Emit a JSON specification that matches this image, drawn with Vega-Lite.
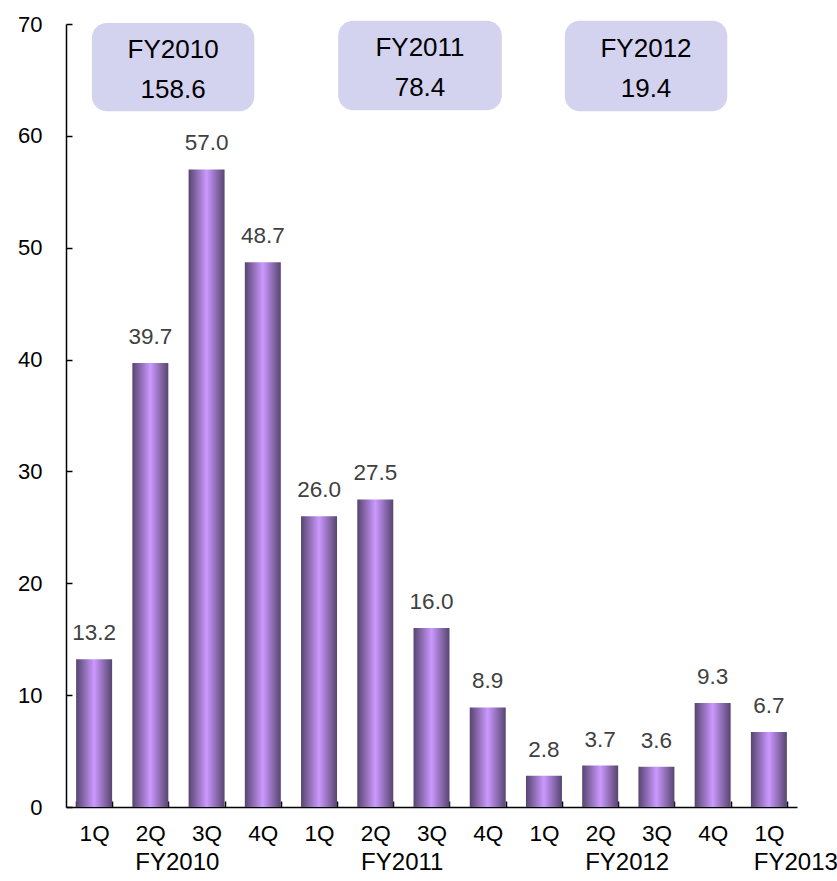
{
  "$schema": "https://vega.github.io/schema/vega-lite/v6.json",
  "width": 731,
  "height": 783,
  "autosize": {"type": "none"},
  "padding": {"left": 66, "top": 24, "right": 40, "bottom": 74},
  "background": "white",
  "config": {
    "view": {"stroke": null},
    "font": "Liberation Sans",
    "axis": {"grid": false}
  },
  "datasets": {
    "bars": [
      {"period": "FY2010 1Q", "value": 13.2},
      {"period": "FY2010 2Q", "value": 39.7},
      {"period": "FY2010 3Q", "value": 57.0},
      {"period": "FY2010 4Q", "value": 48.7},
      {"period": "FY2011 1Q", "value": 26.0},
      {"period": "FY2011 2Q", "value": 27.5},
      {"period": "FY2011 3Q", "value": 16.0},
      {"period": "FY2011 4Q", "value": 8.9},
      {"period": "FY2012 1Q", "value": 2.8},
      {"period": "FY2012 2Q", "value": 3.7},
      {"period": "FY2012 3Q", "value": 3.6},
      {"period": "FY2012 4Q", "value": 9.3},
      {"period": "FY2013 1Q", "value": 6.7}
    ],
    "years": [
      {"fy": "FY2010", "anchor": "FY2010 2Q"},
      {"fy": "FY2011", "anchor": "FY2011 2Q"},
      {"fy": "FY2012", "anchor": "FY2012 2Q"},
      {"fy": "FY2013", "anchor": "FY2013 1Q"}
    ],
    "boxes": [
      {"fy": "FY2010", "total": "158.6", "x1": 0.46, "x2": 3.35, "y1": 62.2, "y2": 70.1, "cx": 1.905, "cy": 66.15},
      {"fy": "FY2011", "total": "78.4", "x1": 4.84, "x2": 7.75, "y1": 62.3, "y2": 70.3, "cx": 6.295, "cy": 66.3},
      {"fy": "FY2012", "total": "19.4", "x1": 8.87, "x2": 11.76, "y1": 62.2, "y2": 70.3, "cx": 10.315, "cy": 66.25}
    ]
  },
  "layer": [
    {
      "layer": [
        {
          "data": {"name": "bars"},
          "mark": {
            "type": "bar",
            "color": {
              "gradient": "linear",
              "x1": 0, "y1": 0, "x2": 1, "y2": 0,
              "stops": [
                {"offset": 0, "color": "#56456f"},
                {"offset": 0.5, "color": "#cc99ff"},
                {"offset": 1, "color": "#56456f"}
              ]
            }
          },
          "encoding": {
            "x": {
              "field": "period", "type": "nominal", "title": null,
              "scale": {"paddingInner": 0.36, "paddingOuter": 0.18},
              "axis": {
                "labelExpr": "split(datum.label, ' ')[1]",
                "labelAngle": 0,
                "labelFont": "Liberation Sans",
                "labelFontSize": 22.5,
                "labelColor": "black",
                "labelPadding": 21,
                "tickBand": "extent",
                "tickSize": -6,
                "tickColor": "black",
                "tickWidth": 1.5,
                "domainColor": "black",
                "domainWidth": 1.5
              }
            },
            "y": {
              "field": "value", "type": "quantitative", "title": null,
              "scale": {"domain": [0, 70], "nice": false},
              "axis": {
                "values": [0, 10, 20, 30, 40, 50, 60, 70],
                "labelFont": "Liberation Sans",
                "labelFontSize": 22,
                "labelColor": "black",
                "labelPadding": 30,
                "tickSize": -6,
                "tickColor": "black",
                "tickWidth": 1.5,
                "domainColor": "black",
                "domainWidth": 1.5
              }
            }
          }
        },
        {
          "data": {"name": "bars"},
          "mark": {"type": "text", "font": "Liberation Sans", "fontSize": 22.5, "color": "#404040", "baseline": "alphabetic", "dy": -19},
          "encoding": {
            "x": {"field": "period", "type": "nominal"},
            "y": {"field": "value", "type": "quantitative"},
            "text": {"field": "value", "type": "quantitative", "format": ".1f"}
          }
        },
        {
          "data": {"name": "years"},
          "mark": {"type": "text", "font": "Liberation Sans", "fontSize": 24, "color": "black", "baseline": "alphabetic", "dy": 63},
          "encoding": {
            "x": {"field": "anchor", "type": "nominal", "bandPosition": 1.25},
            "y": {"datum": 0, "type": "quantitative"},
            "text": {"field": "fy"}
          }
        }
      ]
    },
    {
      "data": {"name": "boxes"},
      "layer": [
        {
          "mark": {"type": "rect", "fill": "#d3d3f0", "cornerRadius": 15},
          "encoding": {
            "x": {"field": "x1", "type": "quantitative", "scale": {"domain": [0, 13], "nice": false, "zero": false}, "axis": null},
            "x2": {"field": "x2"},
            "y": {"field": "y1", "type": "quantitative", "scale": {"domain": [0, 70], "nice": false}},
            "y2": {"field": "y2"}
          }
        },
        {
          "mark": {"type": "text", "font": "Liberation Sans", "fontSize": 26, "color": "black", "baseline": "alphabetic", "dy": -9},
          "encoding": {
            "x": {"field": "cx", "type": "quantitative", "scale": {"domain": [0, 13], "nice": false, "zero": false}, "axis": null},
            "y": {"field": "cy", "type": "quantitative"},
            "text": {"field": "fy"}
          }
        },
        {
          "mark": {"type": "text", "font": "Liberation Sans", "fontSize": 26, "color": "black", "baseline": "alphabetic", "dy": 31},
          "encoding": {
            "x": {"field": "cx", "type": "quantitative", "scale": {"domain": [0, 13], "nice": false, "zero": false}, "axis": null},
            "y": {"field": "cy", "type": "quantitative"},
            "text": {"field": "total"}
          }
        }
      ]
    }
  ],
  "resolve": {"scale": {"x": "independent"}}
}
